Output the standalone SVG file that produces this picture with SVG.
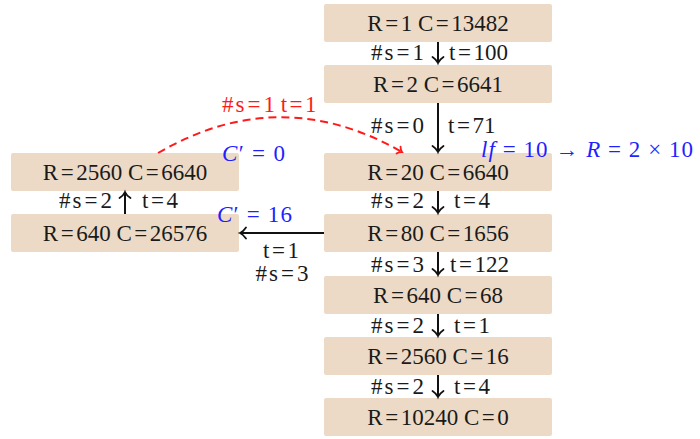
<svg xmlns="http://www.w3.org/2000/svg" width="700" height="439" viewBox="0 0 700 439">
<defs>
<style>
.box{fill:#ecdac6;}
.t{font-family:"Liberation Serif","Times New Roman",serif;font-size:23px;fill:#1a1a1a;}
.m{font-family:"Liberation Serif","Times New Roman",serif;font-size:23px;fill:#1f1fff;font-style:italic;}
.up{font-style:normal;}
.red{font-family:"Liberation Serif","Times New Roman",serif;font-size:23px;fill:#ff1a1a;}
.c{text-anchor:middle;}
.e{text-anchor:end;}
.edge{stroke:#111;stroke-width:2;fill:none;}
.dash{stroke:#ff1a1a;stroke-width:2;fill:none;stroke-dasharray:8 5;}
</style>
<marker id="ah" markerUnits="userSpaceOnUse" viewBox="-8 -7 10 14" refX="0" refY="0" markerWidth="10" markerHeight="14" orient="auto" overflow="visible">
<path d="M-6,-5.5 C-4,-2.5 -1.5,-0.6 0,0 C-1.5,0.6 -4,2.5 -6,5.5" stroke="#111" stroke-width="1.8" fill="none" stroke-linecap="round"/>
</marker>
<marker id="ahr" markerUnits="userSpaceOnUse" viewBox="-8 -7 10 14" refX="0" refY="0" markerWidth="10" markerHeight="14" orient="auto" overflow="visible">
<path d="M-4,-4 C-3,-2 -1,-0.5 0,0 C-1,0.5 -3,2 -4,4" stroke="#ff1a1a" stroke-width="1.8" fill="none" stroke-linecap="round"/>
</marker>
</defs>
<rect width="700" height="439" fill="#ffffff"/>

<g id="n1"><rect class="box" x="324" y="4" width="228" height="38" rx="2"/><text class="t c" x="438" y="31">R<tspan dx="2.5">=</tspan><tspan dx="2.5">1 C</tspan><tspan dx="2.5">=</tspan><tspan dx="2.5">13482</tspan></text></g>
<g id="n2"><rect class="box" x="324" y="65" width="228" height="38" rx="2"/><text class="t c" x="438" y="92">R<tspan dx="2.5">=</tspan><tspan dx="2.5">2 C</tspan><tspan dx="2.5">=</tspan><tspan dx="2.5">6641</tspan></text></g>
<g id="n3"><rect class="box" x="324" y="153" width="228" height="38" rx="2"/><text class="t c" x="438" y="180">R<tspan dx="2.5">=</tspan><tspan dx="2.5">20 C</tspan><tspan dx="2.5">=</tspan><tspan dx="2.5">6640</tspan></text></g>
<g id="n4"><rect class="box" x="324" y="214" width="228" height="38" rx="2"/><text class="t c" x="438" y="241">R<tspan dx="2.5">=</tspan><tspan dx="2.5">80 C</tspan><tspan dx="2.5">=</tspan><tspan dx="2.5">1656</tspan></text></g>
<g id="n5"><rect class="box" x="324" y="276" width="228" height="38" rx="2"/><text class="t c" x="438" y="303">R<tspan dx="2.5">=</tspan><tspan dx="2.5">640 C</tspan><tspan dx="2.5">=</tspan><tspan dx="2.5">68</tspan></text></g>
<g id="n6"><rect class="box" x="324" y="337" width="228" height="38" rx="2"/><text class="t c" x="438" y="364">R<tspan dx="2.5">=</tspan><tspan dx="2.5">2560 C</tspan><tspan dx="2.5">=</tspan><tspan dx="2.5">16</tspan></text></g>
<g id="n7"><rect class="box" x="324" y="398" width="228" height="38" rx="2"/><text class="t c" x="438" y="425">R<tspan dx="2.5">=</tspan><tspan dx="2.5">10240 C</tspan><tspan dx="2.5">=</tspan><tspan dx="2.5">0</tspan></text></g>
<g id="l1"><rect class="box" x="11" y="153" width="228" height="38" rx="2"/><text class="t c" x="125" y="180">R<tspan dx="2.5">=</tspan><tspan dx="2.5">2560 C</tspan><tspan dx="2.5">=</tspan><tspan dx="2.5">6640</tspan></text></g>
<g id="l2"><rect class="box" x="11" y="214" width="228" height="38" rx="2"/><text class="t c" x="125" y="241">R<tspan dx="2.5">=</tspan><tspan dx="2.5">640 C</tspan><tspan dx="2.5">=</tspan><tspan dx="2.5">26576</tspan></text></g>

<g id="connectors">
<line class="edge" x1="438" y1="42" x2="438" y2="63" marker-end="url(#ah)"/>
<line class="edge" x1="438" y1="103" x2="438" y2="152" marker-end="url(#ah)"/>
<line class="edge" x1="438" y1="191" x2="438" y2="213" marker-end="url(#ah)"/>
<line class="edge" x1="438" y1="252" x2="438" y2="275" marker-end="url(#ah)"/>
<line class="edge" x1="438" y1="314" x2="438" y2="336" marker-end="url(#ah)"/>
<line class="edge" x1="438" y1="375" x2="438" y2="397" marker-end="url(#ah)"/>
<line class="edge" x1="125" y1="214" x2="125" y2="192" marker-end="url(#ah)"/>
<line class="edge" x1="324" y1="233" x2="240" y2="233" marker-end="url(#ah)"/>
<path class="dash" d="M158,153 Q280,82 402,152" marker-end="url(#ahr)"/>

<text class="t e" x="424" y="60">#<tspan dx="2">s</tspan><tspan dx="3">=</tspan><tspan dx="3">1</tspan></text>
<text class="t" x="449" y="60">t<tspan dx="2.5">=</tspan><tspan dx="2.5">100</tspan></text>
<text class="t e" x="424" y="133">#<tspan dx="2">s</tspan><tspan dx="3">=</tspan><tspan dx="3">0</tspan></text>
<text class="t" x="448" y="133">t<tspan dx="2.5">=</tspan><tspan dx="2.5">71</tspan></text>
<text class="t e" x="424" y="208">#<tspan dx="2">s</tspan><tspan dx="3">=</tspan><tspan dx="3">2</tspan></text>
<text class="t" x="454" y="208">t<tspan dx="2.5">=</tspan><tspan dx="2.5">4</tspan></text>
<text class="t e" x="424" y="272">#<tspan dx="2">s</tspan><tspan dx="3">=</tspan><tspan dx="3">3</tspan></text>
<text class="t" x="450" y="272">t<tspan dx="2.5">=</tspan><tspan dx="2.5">122</tspan></text>
<text class="t e" x="424" y="333">#<tspan dx="2">s</tspan><tspan dx="3">=</tspan><tspan dx="3">2</tspan></text>
<text class="t" x="454" y="333">t<tspan dx="2.5">=</tspan><tspan dx="2.5">1</tspan></text>
<text class="t e" x="424" y="394">#<tspan dx="2">s</tspan><tspan dx="3">=</tspan><tspan dx="3">2</tspan></text>
<text class="t" x="454" y="394">t<tspan dx="2.5">=</tspan><tspan dx="2.5">4</tspan></text>
<text class="t e" x="112" y="208">#<tspan dx="2">s</tspan><tspan dx="3">=</tspan><tspan dx="3">2</tspan></text>
<text class="t" x="142" y="208">t<tspan dx="2.5">=</tspan><tspan dx="2.5">4</tspan></text>
<text class="t c" x="281" y="258">t<tspan dx="2.5">=</tspan><tspan dx="2.5">1</tspan></text>
<text class="t c" x="282" y="281">#<tspan dx="2">s</tspan><tspan dx="3">=</tspan><tspan dx="3">3</tspan></text>
<text class="red" x="222" y="112">#<tspan dx="2">s</tspan><tspan dx="3">=</tspan><tspan dx="3">1 t</tspan><tspan dx="2.5">=</tspan><tspan dx="2.5">1</tspan></text>
<text class="m" x="222" y="161" textLength="63" lengthAdjust="spacing">C<tspan class="up">′ = 0</tspan></text>
<text class="m" x="217" y="222" textLength="75" lengthAdjust="spacing">C<tspan class="up">′ = 16</tspan></text>
<text class="m" x="481" y="157" textLength="212" lengthAdjust="spacing">lf <tspan class="up">= 10 → </tspan>R<tspan class="up"> = 2 × 10</tspan></text>
</g>
</svg>
